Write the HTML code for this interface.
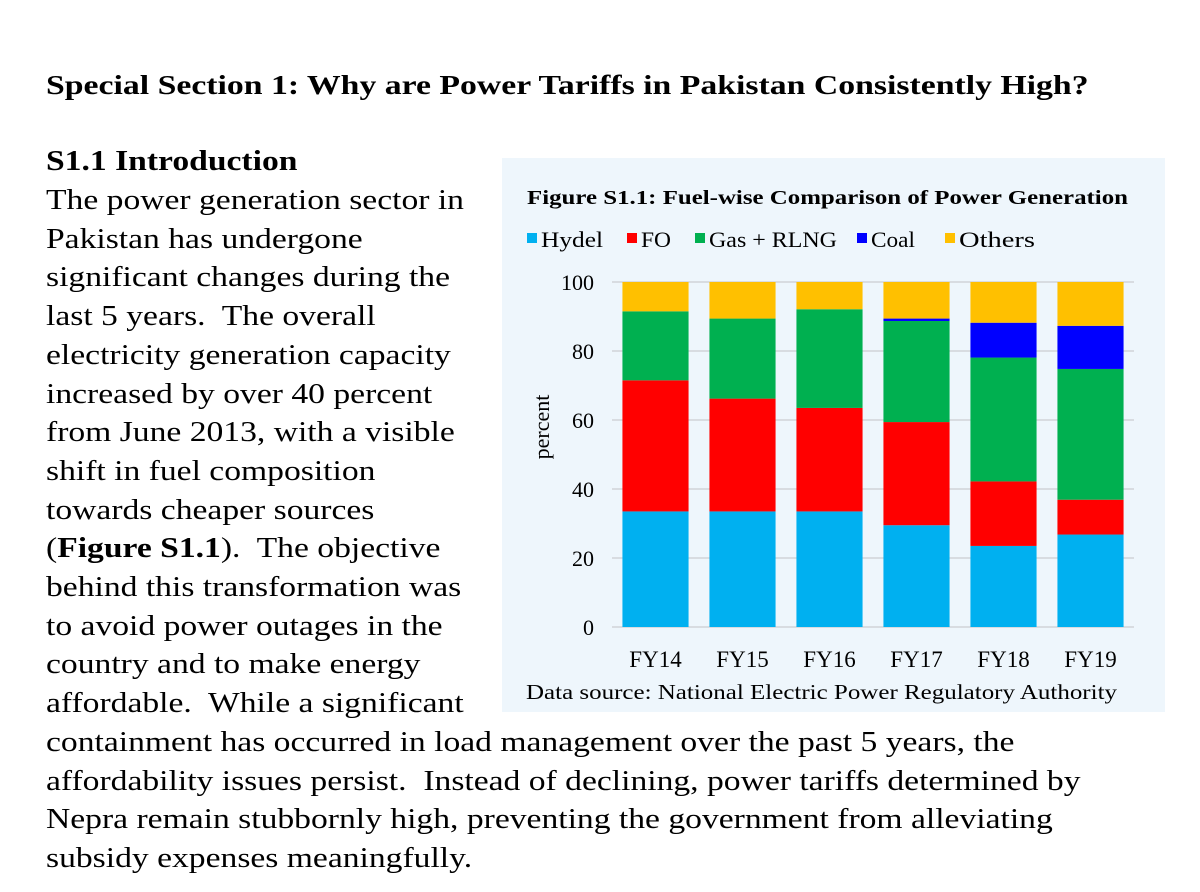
<!DOCTYPE html>
<html><head><meta charset="utf-8"><style>
body{margin:0;width:1200px;height:892px;background:#fff;overflow:hidden;position:relative;font-family:"Liberation Serif",serif;color:#000}
.t{position:absolute;left:46px;font-size:28px;white-space:nowrap;line-height:38.7px;transform-origin:0 0}
#panel{position:absolute;left:502px;top:158px;width:663px;height:554px;background:#eef6fc}
</style></head><body>
<div class="t" style="top:66px;font-weight:bold;font-size:27px;transform:scaleX(1.25)">Special Section 1: Why are Power Tariffs in Pakistan Consistently High?</div>
<div class="t" style="top:143px;font-weight:bold;transform:scaleX(1.2)">S1.1 Introduction</div>
<div class="t" style="top:182px;transform:scaleX(1.2)">The power generation sector in<br>Pakistan has undergone<br>significant changes during the<br>last 5 years.&nbsp; The overall<br>electricity generation capacity<br>increased by over 40 percent<br>from June 2013, with a visible<br>shift in fuel composition<br>towards cheaper sources<br>(<b>Figure S1.1</b>).&nbsp; The objective<br>behind this transformation was<br>to avoid power outages in the<br>country and to make energy<br>affordable.&nbsp; While a significant<br>containment has occurred in load management over the past 5 years, the<br>affordability issues persist.&nbsp; Instead of declining, power tariffs determined by<br>Nepra remain stubbornly high, preventing the government from alleviating<br>subsidy expenses meaningfully.</div>
<div id="panel"></div>
<svg id="chart" width="1200" height="892" style="position:absolute;left:0;top:0" font-family="Liberation Serif, serif"></svg>
<script>
const categories=["FY14","FY15","FY16","FY17","FY18","FY19"];
const seriesNames=["Hydel","FO","Gas + RLNG","Coal","Others"];
const hydel=[33.5,33.5,33.5,29.5,23.5,26.8];
const fo=[38,32.7,30,29.9,18.7,10.1];
const gas=[20,23.2,28.6,29.3,35.9,37.9];
const coal=[0,0,0,0.7,10.1,12.5];
const others=[8.5,10.6,7.9,10.6,11.8,12.7];
const yTicks=[0,20,40,60,80,100];
const colors=["#00b0f0","#ff0000","#00b050","#0000ff","#ffc000"];
const series=[hydel,fo,gas,coal,others];
const NS="http://www.w3.org/2000/svg";
const svg=document.getElementById('chart');
const y0=627,y1=282,x0=612,x1=1134;
const y=v=>y0-(v/100)*(y0-y1);
const step=(x1-x0)/categories.length;
const bx=i=>x0+step*i+step*0.12;
const bw=step*0.76;
function mk(t,a,txt){const e=document.createElementNS(NS,t);for(const k in a)e.setAttribute(k,a[k]);if(txt!==undefined)e.textContent=txt;svg.appendChild(e);return e;}
let e=mk('text',{x:527,y:204,'font-size':20,'font-weight':'bold',textLength:601,lengthAdjust:'spacingAndGlyphs'},'Figure S1.1: Fuel-wise Comparison of Power Generation');


const legX=[527,627,695,857,945];
const legW=[62,30,128,44,76];
seriesNames.forEach((n,i)=>{
 const r=mk('rect',{x:legX[i],y:233,width:10,height:10,fill:colors[i]});
 
 
 const t=mk('text',{x:legX[i]+14,y:247,'font-size':22,textLength:legW[i],lengthAdjust:'spacingAndGlyphs'},n);
 
 
});
yTicks.forEach(v=>{
 const l=mk('line',{x1:x0,x2:x1,y1:y(v),y2:y(v),stroke:'#d0d4d8','stroke-width':1.5});
 
 
 const t=mk('text',{x:594,y:y(v)+8,'font-size':22,'text-anchor':'end'},String(v));
 
 
});
categories.forEach((c,i)=>{
 let acc=0;
 series.forEach((s,k)=>{
  if(s[i]>0){
   const r=mk('rect',{x:bx(i),y:y(acc+s[i]),width:bw,height:y(acc)-y(acc+s[i]),fill:colors[k]});
   
   
  }
  acc+=s[i];
 });
 const t=mk('text',{x:bx(i)+bw/2,y:667,'font-size':23,'text-anchor':'middle'},c);
 
 
});
e=mk('text',{x:0,y:0,'font-size':22,'text-anchor':'middle',transform:'translate(549,427) rotate(-90)'},'percent');


e=mk('text',{x:526,y:699,'font-size':21,textLength:591,lengthAdjust:'spacingAndGlyphs'},'Data source: National Electric Power Regulatory Authority');


</script>
</body></html>
